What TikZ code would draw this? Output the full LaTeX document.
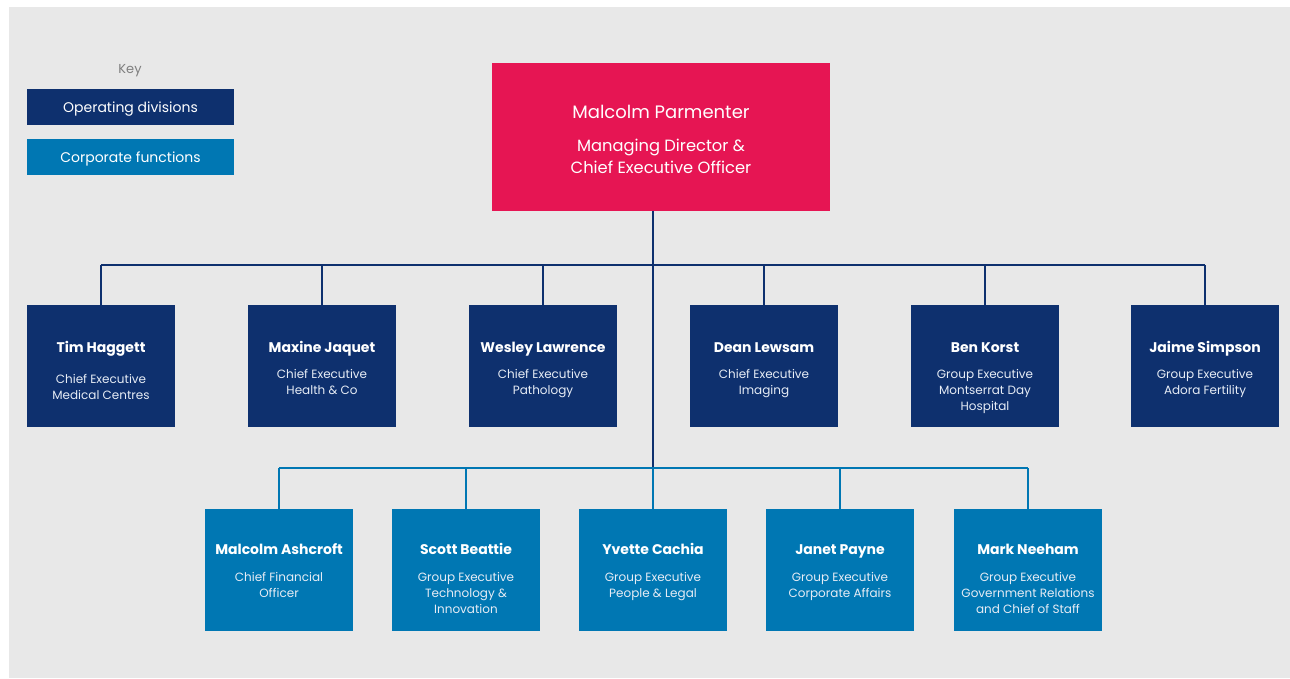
\documentclass[tikz,border=0pt]{standalone}
\usepackage{fontspec}
\setmainfont{Poppins}
\definecolor{navy}{HTML}{0E306E}
\definecolor{corp}{HTML}{0077B3}
\definecolor{ceocol}{HTML}{E61553}
\definecolor{bg}{HTML}{E8E8E8}
\definecolor{keygray}{HTML}{7F7F7F}
\definecolor{subwhite}{HTML}{E6ECF5}
\tikzset{
  opbox/.style={fill=navy, minimum width=148pt, minimum height=122pt, inner sep=0pt, outer sep=0pt},
  corpbox/.style={fill=corp, minimum width=148pt, minimum height=122pt, inner sep=0pt, outer sep=0pt},
  keybox/.style={minimum width=207pt, minimum height=36pt, inner sep=0pt, outer sep=0pt},
  keytext/.style={text=white, anchor=base, inner sep=0pt, font=\fontsize{14}{16}\selectfont},
  pname/.style={text=white, anchor=base, inner sep=0pt, font=\fontsize{14}{16}\selectfont\bfseries},
  ptitle/.style={text=subwhite, anchor=base, inner sep=0pt, align=center, font=\fontsize{12}{16}\selectfont},
  navyline/.style={draw=navy, line width=2.2pt},
  corpline/.style={draw=corp, line width=2.2pt},
}
\begin{document}
\begin{tikzpicture}[x=1pt,y=-1pt]
\useasboundingbox (0,0) rectangle (1290,679);
\fill[bg] (9,7) rectangle (1290,678);

% key
\node[text=keygray, anchor=base, inner sep=0pt, font=\fontsize{13}{15}\selectfont] (keylbl) at (130,73.5) {Key};
\node[keybox, fill=navy] (keyop) at (130.5,107) {};
\node[keytext] (keyopt) at (130.5,113) {Operating divisions};
\node[keybox, fill=corp] (keycorp) at (130.5,157) {};
\node[keytext] (keycorpt) at (130.5,163) {Corporate functions};

% CEO
\node[fill=ceocol, minimum width=338pt, minimum height=148pt, inner sep=0pt, outer sep=0pt] (ceo) at (661,137) {};
\node[text=white, anchor=base, inner sep=0pt, font=\fontsize{18}{22}\selectfont] (ceoname) at (661,118.5) {Malcolm Parmenter};
\node[text=white, anchor=base, inner sep=0pt, align=center, font=\fontsize{16.3}{22}\selectfont] (ceotitle) at (661,174) {Managing Director \&\\Chief Executive Officer};

% top row
\node[opbox] (tim) at (101,366) {};
\node[opbox] (maxine) at (322,366) {};
\node[opbox] (wesley) at (543,366) {};
\node[opbox] (dean) at (764,366) {};
\node[opbox] (ben) at (985,366) {};
\node[opbox] (jaime) at (1205,366) {};

\node[pname] (timn) at (101,352) {Tim Haggett};
\node[ptitle] (timt) at (101,399) {Chief Executive\\Medical Centres};
\node[pname] (maxn) at (322,352) {Maxine Jaquet};
\node[ptitle] (maxt) at (322,394) {Chief Executive\\Health \& Co};
\node[pname] (wesn) at (543,352) {Wesley Lawrence};
\node[ptitle] (west) at (543,394) {Chief Executive\\Pathology};
\node[pname] (deann) at (764,352) {Dean Lewsam};
\node[ptitle] (deant) at (764,394) {Chief Executive\\Imaging};
\node[pname] (benn) at (985,352) {Ben Korst};
\node[ptitle] (bent) at (985,410) {Group Executive\\Montserrat Day\\Hospital};
\node[pname] (jaimen) at (1205,352) {Jaime Simpson};
\node[ptitle] (jaimet) at (1205,394) {Group Executive\\Adora Fertility};

% bottom row
\node[corpbox] (ash) at (279,570) {};
\node[corpbox] (scott) at (466,570) {};
\node[corpbox] (yvette) at (653,570) {};
\node[corpbox] (janet) at (840,570) {};
\node[corpbox] (mark) at (1028,570) {};

\node[pname] (ashn) at (279,554) {Malcolm Ashcroft};
\node[ptitle] (asht) at (279,597) {Chief Financial\\Officer};
\node[pname] (scottn) at (466,554) {Scott Beattie};
\node[ptitle] (scottt) at (466,613) {Group Executive\\Technology \&\\Innovation};
\node[pname] (yvn) at (653,554) {Yvette Cachia};
\node[ptitle] (yvt) at (653,597) {Group Executive\\People \& Legal};
\node[pname] (janetn) at (840,554) {Janet Payne};
\node[ptitle] (janett) at (840,597) {Group Executive\\Corporate Affairs};
\node[pname] (markn) at (1028,554) {Mark Neeham};
\node[ptitle] (markt) at (1028,613) {Group Executive\\Government Relations\\and Chief of Staff};

% connectors
\coordinate (j1) at (653,265);
\coordinate (j2) at (653,468);
\draw[navyline] (ceo.south -| j1) -- (j2);
\draw[navyline] (tim.north |- j1) -- (jaime.north |- j1);
\foreach \n in {tim,maxine,wesley,dean,ben,jaime}
  \draw[navyline] (\n.north |- j1) -- (\n.north);
\draw[corpline] (ash.north |- j2) -- (mark.north |- j2);
\foreach \n in {ash,scott,yvette,janet,mark}
  \draw[corpline] (\n.north |- j2) -- (\n.north);
\end{tikzpicture}
\end{document}
